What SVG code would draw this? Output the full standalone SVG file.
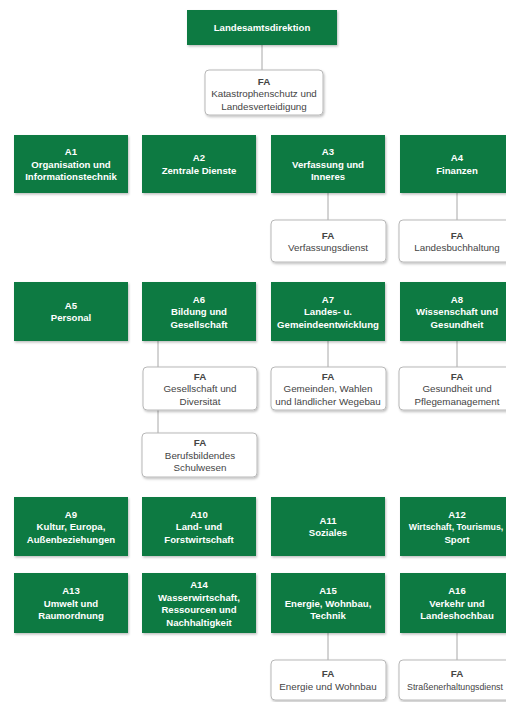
<svg xmlns="http://www.w3.org/2000/svg" width="506" height="702" viewBox="0 0 506 702">
<defs>
<filter id="sh" x="-10%" y="-10%" width="130%" height="140%">
<feDropShadow dx="1" dy="1.5" stdDeviation="1" flood-color="#000" flood-opacity="0.25"/>
</filter>
</defs>
<style>
.g{fill:#0e7a42;filter:url(#sh)}
.f{fill:#fff;stroke:#b8b8b8;stroke-width:1;filter:url(#sh)}
text{font-family:"Liberation Sans",Arial,sans-serif;text-anchor:middle}
.w{fill:#fff;font-size:9.6px;font-weight:bold}
.k{fill:#444;font-size:9.8px}
.b{font-weight:bold}
.s{font-size:8.8px}
.c{stroke:#a8a8a8;stroke-width:1;fill:none}
</style>
<rect width="506" height="702" fill="#fff"/>
<g id="connectors">
<line class="c" x1="262" y1="45" x2="262" y2="70"/>
<line class="c" x1="328" y1="193" x2="328" y2="220"/>
<line class="c" x1="457" y1="193" x2="457" y2="220"/>
<line class="c" x1="158" y1="341" x2="158" y2="367"/>
<line class="c" x1="158" y1="410" x2="158" y2="433"/>
<line class="c" x1="328" y1="341" x2="328" y2="367"/>
<line class="c" x1="457" y1="341" x2="457" y2="367"/>
<line class="c" x1="328" y1="633" x2="328" y2="660"/>
<line class="c" x1="457" y1="633" x2="457" y2="660"/>
</g>
<g id="lad"><rect class="g" x="187" y="10" width="150" height="35"/><text class="w" x="262" y="31">Landesamtsdirektion</text></g>
<g id="fa-kat"><rect class="f" x="205" y="70" width="118" height="45" rx="4"/><text class="k b" x="264" y="84.5">FA</text><text class="k" x="264" y="97">Katastrophenschutz und</text><text class="k" x="264" y="109.5">Landesverteidigung</text></g>

<g id="a1"><rect class="g" x="14" y="135" width="114" height="58"/><text class="w" x="71" y="155">A1</text><text class="w" x="71" y="167.5">Organisation und</text><text class="w" x="71" y="180">Informationstechnik</text></g>
<g id="a2"><rect class="g" x="142" y="135" width="114" height="58"/><text class="w" x="199" y="161">A2</text><text class="w" x="199" y="173.5">Zentrale Dienste</text></g>
<g id="a3"><rect class="g" x="271" y="135" width="114" height="58"/><text class="w" x="328" y="155">A3</text><text class="w" x="328" y="167.5">Verfassung und</text><text class="w" x="328" y="180">Inneres</text></g>
<g id="a4"><rect class="g" x="400" y="135" width="114" height="58"/><text class="w" x="457" y="161">A4</text><text class="w" x="457" y="173.5">Finanzen</text></g>
<g id="fa-vd"><rect class="f" x="271" y="220" width="115" height="42" rx="4"/><text class="k b" x="328" y="238.5">FA</text><text class="k" x="328" y="251">Verfassungsdienst</text></g>
<g id="fa-lb"><rect class="f" x="399" y="220" width="115" height="42" rx="4"/><text class="k b" x="457" y="238.5">FA</text><text class="k" x="457" y="251">Landesbuchhaltung</text></g>

<g id="a5"><rect class="g" x="14" y="282" width="114" height="59"/><text class="w" x="71" y="308.5">A5</text><text class="w" x="71" y="321">Personal</text></g>
<g id="a6"><rect class="g" x="142" y="282" width="114" height="59"/><text class="w" x="199" y="302.5">A6</text><text class="w" x="199" y="315">Bildung und</text><text class="w" x="199" y="327.5">Gesellschaft</text></g>
<g id="a7"><rect class="g" x="271" y="282" width="114" height="59"/><text class="w" x="328" y="302.5">A7</text><text class="w" x="328" y="315">Landes- u.</text><text class="w" x="328" y="327.5">Gemeindeentwicklung</text></g>
<g id="a8"><rect class="g" x="400" y="282" width="114" height="59"/><text class="w" x="457" y="302.5">A8</text><text class="w" x="457" y="315">Wissenschaft und</text><text class="w" x="457" y="327.5">Gesundheit</text></g>
<g id="fa-gd"><rect class="f" x="143" y="367" width="114" height="43" rx="4"/><text class="k b" x="200" y="379.5">FA</text><text class="k" x="200" y="392">Gesellschaft und</text><text class="k" x="200" y="404.5">Diversität</text></g>
<g id="fa-gw"><rect class="f" x="271" y="367" width="115" height="43" rx="4"/><text class="k b" x="328" y="379.5">FA</text><text class="k" x="328" y="392">Gemeinden, Wahlen</text><text class="k" x="328" y="404.5">und ländlicher Wegebau</text></g>
<g id="fa-gp"><rect class="f" x="399" y="367" width="115" height="43" rx="4"/><text class="k b" x="457" y="379.5">FA</text><text class="k" x="457" y="392">Gesundheit und</text><text class="k" x="457" y="404.5">Pflegemanagement</text></g>
<g id="fa-bs"><rect class="f" x="142" y="433" width="115" height="44" rx="4"/><text class="k b" x="200" y="446">FA</text><text class="k" x="200" y="458.5">Berufsbildendes</text><text class="k" x="200" y="471">Schulwesen</text></g>

<g id="a9"><rect class="g" x="14" y="497" width="114" height="59"/><text class="w" x="71" y="517.5">A9</text><text class="w" x="71" y="530">Kultur, Europa,</text><text class="w" x="71" y="542.5">Außenbeziehungen</text></g>
<g id="a10"><rect class="g" x="142" y="497" width="114" height="59"/><text class="w" x="199" y="517.5">A10</text><text class="w" x="199" y="530">Land- und</text><text class="w" x="199" y="542.5">Forstwirtschaft</text></g>
<g id="a11"><rect class="g" x="271" y="497" width="114" height="59"/><text class="w" x="328" y="523.5">A11</text><text class="w" x="328" y="536">Soziales</text></g>
<g id="a12"><rect class="g" x="400" y="497" width="114" height="59"/><text class="w" x="457" y="517.5">A12</text><text class="w s" x="456" y="530">Wirtschaft, Tourismus,</text><text class="w" x="457" y="542.5">Sport</text></g>

<g id="a13"><rect class="g" x="14" y="573" width="114" height="60"/><text class="w" x="71" y="594">A13</text><text class="w" x="71" y="606.5">Umwelt und</text><text class="w" x="71" y="619">Raumordnung</text></g>
<g id="a14"><rect class="g" x="142" y="573" width="114" height="60"/><text class="w" x="199" y="588">A14</text><text class="w" x="199" y="600.5">Wasserwirtschaft,</text><text class="w" x="199" y="613">Ressourcen und</text><text class="w" x="199" y="625.5">Nachhaltigkeit</text></g>
<g id="a15"><rect class="g" x="271" y="573" width="114" height="60"/><text class="w" x="328" y="594">A15</text><text class="w" x="328" y="606.5">Energie, Wohnbau,</text><text class="w" x="328" y="619">Technik</text></g>
<g id="a16"><rect class="g" x="400" y="573" width="114" height="60"/><text class="w" x="457" y="594">A16</text><text class="w" x="457" y="606.5">Verkehr und</text><text class="w" x="457" y="619">Landeshochbau</text></g>
<g id="fa-ew"><rect class="f" x="271" y="660" width="115" height="40" rx="4"/><text class="k b" x="328" y="677">FA</text><text class="k" x="328" y="689.5">Energie und Wohnbau</text></g>
<g id="fa-sd"><rect class="f" x="399" y="660" width="115" height="40" rx="4"/><text class="k b" x="457" y="677">FA</text><text class="k s" x="455" y="689.5">Straßenerhaltungsdienst</text></g>
</svg>
